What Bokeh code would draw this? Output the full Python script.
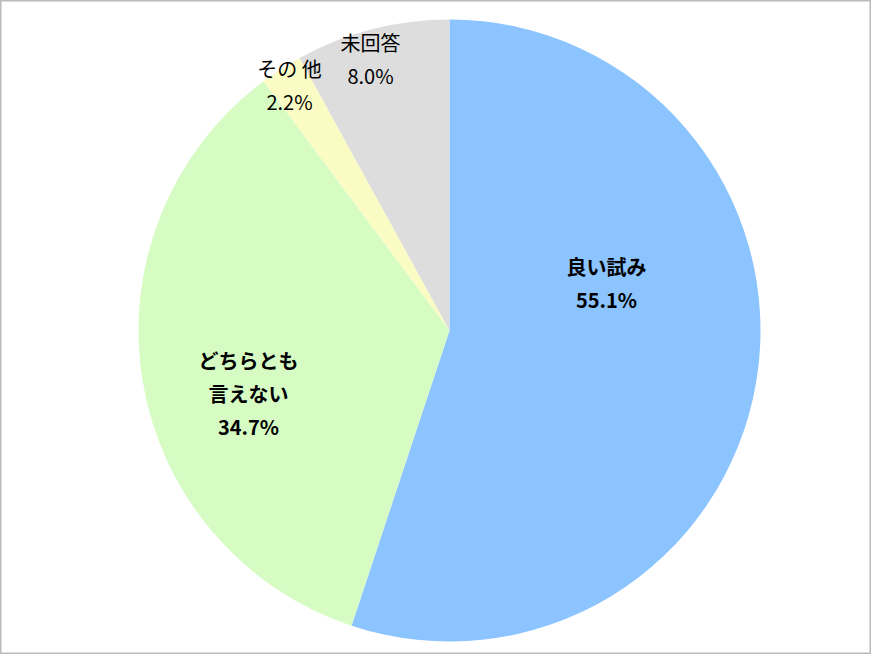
import math
from bokeh.plotting import figure
from bokeh.models import Range1d, ColumnDataSource
from bokeh.core.properties import value
from bokeh.embed import file_html
from bokeh.resources import INLINE

# data
categories = ["良い試み", "どちらとも\n言えない", "その 他", "未回答"]
percents = [55.1, 34.7, 2.2, 8.0]
colors = ["#8CC4FF", "#D6FCC4", "#FAFCC4", "#DDDDDD"]
bold = [True, True, False, False]

# layout (label centers, in pixel-like data units relative to pie center)
label_pos = [(157, 48), (-201, -63), (-160, 246), (-79, 272)]
line_step = 33
R = 311

p = figure(width=871, height=654, output_backend="svg", toolbar_location=None,
           x_range=Range1d(-449, 422), y_range=Range1d(-324, 330),
           min_border=0, min_border_left=0, min_border_right=0,
           min_border_top=0, min_border_bottom=0)
p.axis.visible = False
p.grid.visible = False
p.outline_line_color = "#BBBBBB"
p.outline_line_width = 2
p.background_fill_color = "white"
p.border_fill_color = "white"

total = sum(percents)
starts, ends = [], []
acc = 0.0
for v in percents:
    a0 = math.pi / 2 - 2 * math.pi * acc / total
    acc += v
    a1 = math.pi / 2 - 2 * math.pi * acc / total
    starts.append(a0)
    ends.append(a1)

src = ColumnDataSource(dict(start=starts, end=ends, color=colors))
p.wedge(x=0, y=0, radius=R, start_angle="start", end_angle="end",
        direction="clock", fill_color="color", line_color=None, source=src)

for cat, v, (lx, ly), b in zip(categories, percents, label_pos, bold):
    lines = cat.split("\n") + [f"{v:.1f}%"]
    n = len(lines)
    ys = [ly + (n - 1) / 2 * line_step - i * line_step for i in range(n)]
    p.text(x=[lx] * n, y=ys, text=lines,
           text_font=value("Noto Sans CJK JP"),
           text_font_size="20px",
           text_font_style="bold" if b else "normal",
           text_color="black", text_align="center", text_baseline="middle")

open("out.html", "w").write(file_html(p, INLINE))
